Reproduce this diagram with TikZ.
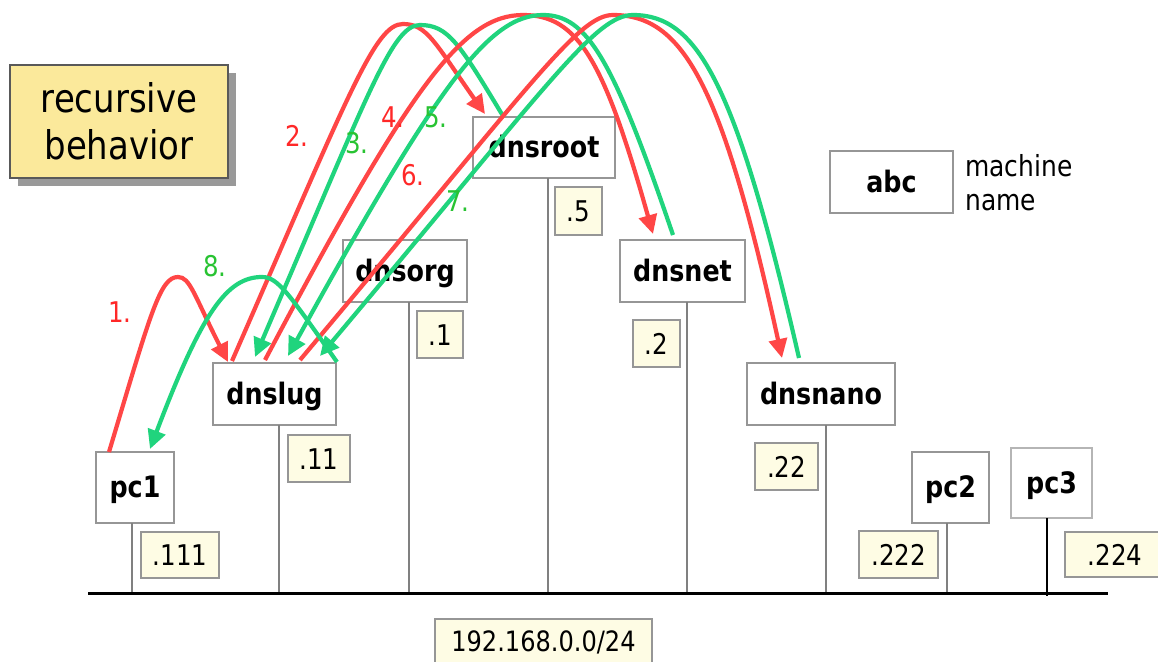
\documentclass[tikz,border=0pt]{standalone}
\usepackage{fontspec}
\setmainfont{DejaVu Sans}[FakeStretch=0.86]
\usetikzlibrary{arrows.meta,calc,shadows}

\definecolor{arcred}{RGB}{255,70,70}
\definecolor{arcgreen}{RGB}{32,212,125}
\definecolor{numred}{RGB}{255,40,40}
\definecolor{numgreen}{RGB}{40,195,50}
\definecolor{ipfill}{RGB}{254,252,228}
\definecolor{notefill}{RGB}{251,233,155}
\definecolor{edgegray}{RGB}{150,150,150}

\tikzset{
  host/.style={draw=edgegray, line width=1.5pt, fill=white, inner sep=0pt, outer sep=0pt,
    font=\fontsize{29.5}{34}\selectfont\bfseries, text height=20pt, text depth=0pt},
  ip/.style={draw=edgegray, line width=1.3pt, fill=ipfill, inner sep=0pt, outer sep=0pt,
    font=\fontsize{28.5}{34}\selectfont, text height=21pt, text depth=0pt},
  stem/.style={draw=edgegray!85!black, line width=1.4pt},
  bus/.style={draw=black, line width=3pt},
  reqarc/.style={color=arcred, line width=4.2pt, -{Triangle[length=19pt,width=18pt]}},
  resarc/.style={color=arcgreen, line width=4.2pt, -{Triangle[length=19pt,width=18pt]}},
  stepnum/.style={inner sep=0pt, font=\fontsize{28.5}{34}\selectfont, text height=20.8pt, text depth=0pt},
  legendtext/.style={anchor=base west, inner sep=0pt, font=\fontsize{29}{34}\selectfont},
}

\begin{document}
\begin{tikzpicture}[x=1pt, y=-1pt]
\clip (0,0) rectangle (1158,661);
\fill[white] (0,0) rectangle (1158,661);

% title note
\node[draw=black!65, line width=1.5pt, fill=notefill, minimum width=218pt, minimum height=113pt,
  inner sep=0pt, align=center, font=\fontsize{39.5}{47}\selectfont,
  drop shadow={shadow xshift=8pt, shadow yshift=-8pt, fill=black!40, opacity=1}]
  (note) at (119,121.5) {recursive\\behavior};

% legend
\node[host, minimum width=123pt, minimum height=62pt] (abc) at (891.5,182) {abc};
\node[legendtext] (mach) at (965,176) {machine};
\node[legendtext] (mname) at (965,210) {name};

% machines
\node[host, minimum width=78pt,  minimum height=71pt] (pc1)     at (135,487.5)  {pc1};
\node[host, minimum width=123pt, minimum height=62pt] (dnslug)  at (274.5,394)  {dnslug};
\node[host, minimum width=124pt, minimum height=62pt] (dnsorg)  at (405,271)    {dnsorg};
\node[host, minimum width=142pt, minimum height=61pt] (dnsroot) at (544,147.5)  {dnsroot};
\node[host, minimum width=125pt, minimum height=62pt] (dnsnet)  at (682.5,271)  {dnsnet};
\node[host, minimum width=148pt, minimum height=62pt] (dnsnano) at (821,394)    {dnsnano};
\node[host, minimum width=77pt,  minimum height=71pt] (pc2)     at (950.5,487.5) {pc2};
\node[host, draw=edgegray!70, minimum width=81pt, minimum height=70pt] (pc3) at (1051.5,483) {pc3};

% addresses
\node[ip, minimum width=78pt,  minimum height=46pt] (ip111) at (180,555)     {.111};
\node[ip, minimum width=62pt,  minimum height=47pt] (ip11)  at (319,458.5)   {.11};
\node[ip, minimum width=46pt,  minimum height=47pt] (ip1)   at (440,334.5)   {.1};
\node[ip, minimum width=47pt,  minimum height=48pt] (ip5)   at (578.5,211)   {.5};
\node[ip, minimum width=47pt,  minimum height=47pt] (ip2)   at (656.5,343.5) {.2};
\node[ip, minimum width=63pt,  minimum height=47pt] (ip22)  at (786.5,466.5) {.22};
\node[ip, minimum width=79pt,  minimum height=47pt] (ip222) at (898.5,554.5) {.222};
\node[ip, minimum width=100pt, minimum height=45pt] (ip224) at (1115,554.5)  {.224};
\node[ip, minimum width=217pt, minimum height=46pt, font=\fontsize{28}{34}\selectfont,
  text height=19pt] (net) at (543.5,642) {192.168.0.0/24};

% network bus and drops
\coordinate (busL) at (88,593);
\coordinate (busR) at (1108,593);
\coordinate (st1) at ([xshift=-3pt]pc1.south);
\coordinate (st2) at ([xshift=4.5pt]dnslug.south);
\coordinate (st3) at ([xshift=4pt]dnsorg.south);
\coordinate (st4) at ([xshift=4pt]dnsroot.south);
\coordinate (st5) at ([xshift=4.5pt]dnsnet.south);
\coordinate (st6) at ([xshift=5pt]dnsnano.south);
\coordinate (st7) at ([xshift=-3.5pt]pc2.south);
\coordinate (st8) at ([xshift=-4.5pt]pc3.south);
\foreach \s in {st1,st2,st3,st4,st5,st6,st7}
  \draw[stem] (\s) -- (\s |- busL);
\draw[black, line width=1.2pt] (st8) -- ([yshift=-3pt]st8 |- busL);
\draw[bus] (busL) -- (busR);

% arc end points on the hosts
\coordinate (a1s) at ($(pc1.north west)+(13,0)$);
\coordinate (a8e) at ($(pc1.north west)+(54,-3)$);
\coordinate (a1e) at ($(dnslug.north west)+(15,-1)$);
\coordinate (a2s) at ($(dnslug.north west)+(19,-2)$);
\coordinate (a3e) at ($(dnslug.north west)+(42,-6)$);
\coordinate (a4s) at ($(dnslug.north west)+(52,-3)$);
\coordinate (a5e) at ($(dnslug.north west)+(75,-7)$);
\coordinate (a6s) at ($(dnslug.north west)+(87,-3)$);
\coordinate (a7e) at ($(dnslug.north west)+(107,-7)$);
\coordinate (a8s) at ($(dnslug.north west)+(124,-1)$);
\coordinate (a2e) at ($(dnsroot.north west)+(12,-3)$);
\coordinate (a3s) at ($(dnsroot.north west)+(30,-1)$);
\coordinate (a4e) at ($(dnsnet.north west)+(33,-6)$);
\coordinate (a5s) at ($(dnsnet.north west)+(53,-5)$);
\coordinate (a6e) at ($(dnsnano.north west)+(35,-5)$);
\coordinate (a7s) at ($(dnsnano.north west)+(52,-5)$);

% arc apexes
\coordinate (a1k) at (178,277);
\coordinate (a8k) at (262,277);
\coordinate (a2k) at (403,24);
\coordinate (a3k) at (420,25);
\coordinate (a4k) at (523,15);
\coordinate (a5k) at (543,15);
\coordinate (a6k) at (613,15);
\coordinate (a7k) at (633,15);

% queries (red) and answers (green)
\draw[reqarc] (a1s) .. controls +(42,-140) and +(-18,0) .. (a1k) .. controls +(12,0) and +(-34,-67) .. (a1e);
\draw[reqarc] (a2s) .. controls +(118,-270) and +(-28,0) .. (a2k) .. controls +(24,0) and +(-50,-71) .. (a2e);
\draw[resarc] (a3s) .. controls +(-44,-73) and +(28,0) .. (a3k) .. controls +(-28,0) and +(114,-265) .. (a3e);
\draw[reqarc] (a4s) .. controls +(146,-276) and +(-60,0) .. (a4k) .. controls +(55,0) and +(-49,-174) .. (a4e);
\draw[resarc] (a5s) .. controls +(-60,-176) and +(44,0) .. (a5k) .. controls +(-54,0) and +(150,-272) .. (a5e);
\draw[reqarc] (a6s) .. controls +(232,-276) and +(-35,0) .. (a6k) .. controls +(70,0) and +(-60,-274) .. (a6e);
\draw[resarc] (a7s) .. controls +(-63,-274) and +(65,0) .. (a7k) .. controls +(-38,0) and +(229,-272) .. (a7e);
\draw[resarc] (a8s) .. controls +(-48,-68) and +(16,0) .. (a8k) .. controls +(-35,0) and +(52,-137) .. (a8e);

% step numbers
\node[stepnum, text=numred]   (n1) at (120,312)   {1.};
\node[stepnum, text=numred]   (n2) at (297,136.5) {2.};
\node[stepnum, text=numgreen] (n3) at (357,143)   {3.};
\node[stepnum, text=numred]   (n4) at (393,117)   {4.};
\node[stepnum, text=numgreen] (n5) at (436,117)   {5.};
\node[stepnum, text=numred]   (n6) at (413,175)   {6.};
\node[stepnum, text=numgreen] (n7) at (458,201)   {7.};
\node[stepnum, text=numgreen] (n8) at (215,266)   {8.};
\end{tikzpicture}
\end{document}
